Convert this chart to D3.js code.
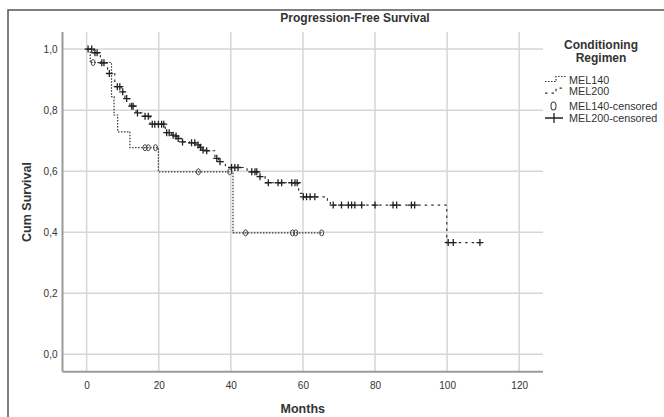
<!DOCTYPE html>
<html><head><meta charset="utf-8">
<script src="https://cdn.jsdelivr.net/npm/d3@7"></script>
<style>body{margin:0;background:#fff}svg{display:block}text{font-family:"Liberation Sans",Arial,sans-serif;fill:#333}</style>
</head><body><svg id="c" width="664" height="417"></svg>
<script>
// ---- data ----
const groups = ["MEL140", "MEL200"];
const legendLabels = ["MEL140", "MEL200", "MEL140-censored", "MEL200-censored"];
const xTicks = [0, 20, 40, 60, 80, 100, 120];
const yTicks = [0, 0.2, 0.4, 0.6, 0.8, 1.0];
const yTickLabels = ["0,0", "0,2", "0,4", "0,6", "0,8", "1,0"];
// step curves: [month, cumulative survival after the step]
const mel140Steps = [[0,1.0],[1.0,0.956],[6.9,0.844],[7.6,0.784],[8.6,0.729],[12.0,0.677],[19.9,0.598],[40.6,0.398]];
const mel140End = 65.2;
const mel140Censored = [1.8,16.2,17.1,19.1,31.0,39.7,44.1,57.1,58.0,65.2];
const mel200Steps = [[0,1.0],[2.0,0.988],[3.8,0.955],[5.8,0.92],[7.8,0.877],[9.6,0.86],[10.6,0.838],[12.0,0.813],[13.7,0.791],[15.5,0.78],[17.6,0.754],[21.8,0.726],[23.6,0.718],[24.5,0.715],[25.2,0.707],[26.2,0.696],[28.5,0.693],[30.5,0.686],[31.3,0.678],[32.0,0.669],[33.0,0.667],[35.6,0.642],[36.6,0.631],[38.5,0.612],[44.5,0.598],[47.8,0.582],[49.5,0.562],[58.8,0.527],[59.8,0.516],[66.8,0.50],[67.6,0.489],[99.9,0.366]];
const mel200End = 109.1;
const mel200Censored = [0.4,1.4,2.3,2.9,4.2,4.8,6.3,8.5,9.2,10.0,11.1,12.5,12.9,14.1,16.2,17.1,18.2,18.9,19.9,20.8,21.4,22.2,22.9,24.0,24.8,25.4,26.6,29.1,30.0,30.9,31.6,32.3,33.3,36.1,37.0,40.2,41.1,42.0,45.8,46.7,47.2,48.1,50.4,53.1,54.1,56.9,57.8,58.4,60.1,61.0,62.0,63.3,68.4,70.7,72.6,73.5,74.4,76.3,80.0,85.0,86.0,90.1,91.0,100.3,101.7,109.1];

// ---- layout ----
const svg = d3.select("#c");
const L = 62.5, R = 543, T = 32, B = 371.7;
const x = d3.scaleLinear().domain([-6.7, 126.6]).range([L, R]);
const y = d3.scaleLinear().domain([-0.057, 1.056]).range([B, T]);

// outer frame
svg.append("rect").attr("x", 8).attr("y", 10).attr("width", 720).attr("height", 460)
  .attr("fill", "none").attr("stroke", "#555").attr("stroke-width", 1.5);

// gridlines
svg.append("g").selectAll("line").data(xTicks).join("line")
  .attr("x1", d => x(d)).attr("x2", d => x(d)).attr("y1", T).attr("y2", B)
  .attr("stroke", "#d6d6d6").attr("stroke-width", 1.5);
svg.append("g").selectAll("line").data(yTicks).join("line")
  .attr("x1", L).attr("x2", R).attr("y1", d => y(d)).attr("y2", d => y(d))
  .attr("stroke", "#d6d6d6").attr("stroke-width", 1.5);

// axes
const xAxis = svg.append("g").attr("transform", `translate(0,${B})`)
  .call(d3.axisBottom(x).tickValues(xTicks).tickSize(0).tickPadding(10));
const yAxis = svg.append("g").attr("transform", `translate(${L},0)`)
  .call(d3.axisLeft(y).tickValues(yTicks).tickSize(0).tickPadding(5)
    .tickFormat((d, i) => yTickLabels[i]));
[xAxis, yAxis].forEach(g => {
  g.select(".domain").attr("stroke", "#9a9a9a").attr("stroke-width", 2);
  g.selectAll("text").attr("font-size", 10).attr("fill", "#444")
    .attr("font-family", "'Liberation Sans',Arial,sans-serif");
});
xAxis.select(".domain").attr("d", `M${L},0H${R}`);
yAxis.select(".domain").attr("d", `M0,${T}V${B}`);

// curves
function surv(steps, t) {
  let s = steps[0][1];
  for (const p of steps) if (p[0] <= t) s = p[1];
  return s;
}
const line = d3.line().x(d => x(d[0])).y(d => y(d[1])).curve(d3.curveStepAfter);
function curve(steps, end, dash) {
  const pts = steps.concat([[end, steps[steps.length - 1][1]]]);
  svg.append("path").attr("d", line(pts)).attr("fill", "none")
    .attr("stroke", "#333").attr("stroke-width", 1.2).attr("stroke-dasharray", dash);
}
curve(mel140Steps, mel140End, "1.5,1.5");
curve(mel200Steps, mel200End, "2.5,4");

// censor marks
svg.append("g").selectAll("ellipse").data(mel140Censored).join("ellipse")
  .attr("cx", d => x(d)).attr("cy", d => y(surv(mel140Steps, d)))
  .attr("rx", 2).attr("ry", 3).attr("fill", "none").attr("stroke", "#444").attr("stroke-width", 1);
const cross = svg.append("g");
mel200Censored.forEach(d => {
  const cx = x(d), cy = y(surv(mel200Steps, d));
  cross.append("path").attr("d", `M${cx - 3.5},${cy}H${cx + 3.5}M${cx},${cy - 3.5}V${cy + 3.5}`)
    .attr("stroke", "#222").attr("stroke-width", 1.3);
});

// titles
svg.append("text").attr("x", 355).attr("y", 22).attr("text-anchor", "middle")
  .attr("font-size", 12).attr("font-weight", "bold").attr("fill", "#222").text("Progression-Free Survival");
svg.append("text").attr("x", (L + R) / 2).attr("y", 413).attr("text-anchor", "middle")
  .attr("font-size", 12.5).attr("font-weight", "bold").attr("fill", "#222").text("Months");
svg.append("text").attr("transform", `translate(31,202) rotate(-90)`).attr("text-anchor", "middle")
  .attr("font-size", 12.5).attr("font-weight", "bold").attr("fill", "#222").text("Cum Survival");

// legend
const lg = svg.append("g");
lg.append("text").attr("x", 601).attr("y", 49).attr("text-anchor", "middle")
  .attr("font-size", 12).attr("font-weight", "bold").attr("fill", "#222").text("Conditioning");
lg.append("text").attr("x", 601).attr("y", 61.5).attr("text-anchor", "middle")
  .attr("font-size", 12).attr("font-weight", "bold").attr("fill", "#222").text("Regimen");
const ly = [83.5, 95.2, 110, 122];
legendLabels.forEach((t, i) => {
  lg.append("text").attr("x", 569).attr("y", ly[i]).attr("font-size", 10.8).attr("fill", "#333").text(t);
});
lg.append("path").attr("d", `M545,${ly[0] - 2}H556V${ly[0] - 7}H566`).attr("fill", "none")
  .attr("stroke", "#333").attr("stroke-width", 1.2).attr("stroke-dasharray", "1.5,1.5");
lg.append("path").attr("d", `M545,${ly[1] - 2}H556V${ly[1] - 7}H566`).attr("fill", "none")
  .attr("stroke", "#333").attr("stroke-width", 1.2).attr("stroke-dasharray", "2.5,4");
lg.append("ellipse").attr("cx", 553.5).attr("cy", ly[2] - 4).attr("rx", 2.5).attr("ry", 4)
  .attr("fill", "none").attr("stroke", "#444").attr("stroke-width", 1.1);
lg.append("path").attr("d", `M545,${ly[3] - 4}H563M554,${ly[3] - 9}V${ly[3] + 1}`)
  .attr("stroke", "#222").attr("stroke-width", 1.3);
</script></body></html>
